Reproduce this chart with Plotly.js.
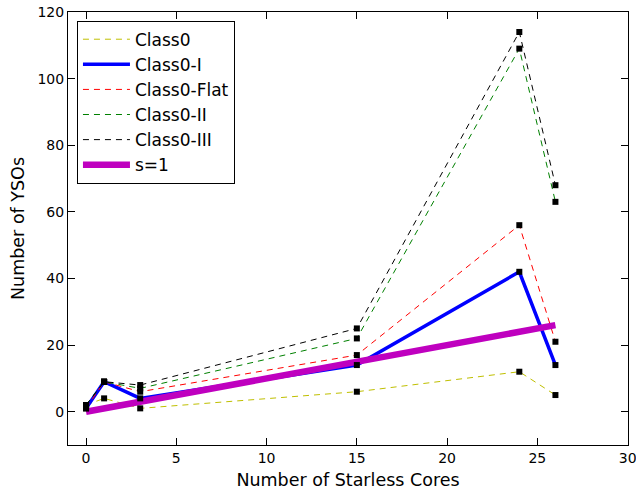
<!DOCTYPE html>
<html><head><meta charset="utf-8">
<script src="https://cdn.plot.ly/plotly-3.0.1.min.js"></script>
<style>html,body{margin:0;padding:0;background:#fff;}#chart{width:636px;height:495px;}</style>
</head><body><div id="chart"></div>
<script>
const cores = [0, 1, 3, 15, 24, 26];
const class0 = [2, 4, 1, 6, 12, 5];
const class0I = [1, 9, 4, 14, 42, 14];
const class0Flat = [1, 9, 6, 17, 56, 21];
const class0II = [2, 9, 7, 22, 109, 63];
const class0III = [2, 9, 8, 25, 114, 68];
const slopeX = [0, 26];
const slopeY = [0, 26];
const xTicks = [0, 5, 10, 15, 20, 25, 30];
const yTicks = [0, 20, 40, 60, 80, 100, 120];

const series = [
  {name: 'Class0', y: class0, color: '#bfbf00', width: 1, dash: '6px,5px'},
  {name: 'Class0-I', y: class0I, color: '#0000ff', width: 3.5, dash: 'solid'},
  {name: 'Class0-Flat', y: class0Flat, color: '#ff0000', width: 1, dash: '6px,5px'},
  {name: 'Class0-II', y: class0II, color: '#008000', width: 1, dash: '6px,5px'},
  {name: 'Class0-III', y: class0III, color: '#000000', width: 1, dash: '6px,5px'}
];
const traces = [];
series.forEach(s => {
  traces.push({x: cores, y: s.y, type: 'scatter', mode: 'lines', name: s.name,
    line: {color: s.color, width: s.width, dash: s.dash}});
});
traces.push({x: slopeX, y: slopeY, type: 'scatter', mode: 'lines', name: 's=1',
  line: {color: '#bf00bf', width: 6.5}});
series.forEach(s => {
  traces.push({x: cores, y: s.y, type: 'scatter', mode: 'markers', showlegend: false,
    marker: {symbol: 'square', color: '#000', size: 6}});
});

const axisCommon = {showline: true, linecolor: '#000', linewidth: 1, mirror: 'allticks',
  ticks: 'inside', ticklen: 7, tickcolor: '#000', showgrid: false, zeroline: false,
  ticklabeloverflow: 'allow',
  tickfont: {family: 'DejaVu Sans', size: 14, color: '#000'}};
const layout = {
  width: 636, height: 495,
  margin: {l: 68, r: 8, t: 12, b: 50},
  paper_bgcolor: '#fff', plot_bgcolor: '#fff',
  font: {family: 'DejaVu Sans', color: '#000'},
  xaxis: Object.assign({}, axisCommon, {range: [-1, 30.02], tickvals: xTicks,
    title: {text: 'Number of Starless Cores', font: {size: 17.5}, standoff: 8}}),
  yaxis: Object.assign({}, axisCommon, {range: [-10, 120], tickvals: yTicks,
    title: {text: 'Number of YSOs', font: {size: 17.5}, standoff: 8}}),
  legend: {x: 0.016, y: 0.98, xanchor: 'left', yanchor: 'top', bgcolor: '#fff',
    bordercolor: '#000', borderwidth: 1, itemwidth: 47,
    font: {size: 17, family: 'DejaVu Sans'}},
  showlegend: true
};
Plotly.newPlot('chart', traces, layout, {displayModeBar: false, staticPlot: true});
</script></body></html>
